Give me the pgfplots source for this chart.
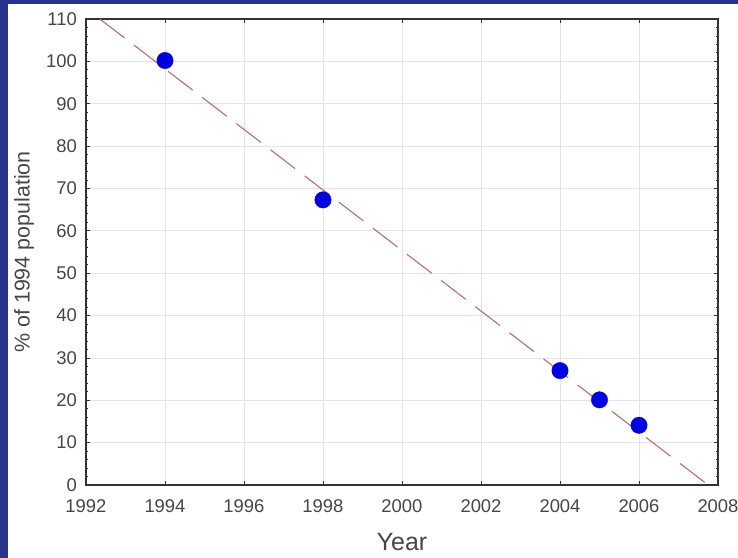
\documentclass[border=0pt]{standalone}
\usepackage{pgfplots}
\pgfplotsset{compat=1.18}
\usepackage{fontspec}
\setmainfont{Liberation Sans}
\definecolor{frameblue}{RGB}{38,52,140}
\definecolor{ptblue}{RGB}{0,0,225}
\definecolor{fitred}{RGB}{180,110,110}
\definecolor{txt}{RGB}{70,70,70}
\begin{document}
\begin{tikzpicture}
\path[use as bounding box] (0,0) rectangle (738bp,558bp);
\fill[white] (0,0) rectangle (738bp,558bp);
\fill[frameblue] (0,0) rectangle (8bp,558bp);
\fill[frameblue] (0,554bp) rectangle (738bp,558bp);
\begin{axis}[
  at={(86bp,73bp)}, anchor=south west,
  scale only axis, width=632bp, height=466bp,
  xmin=1992, xmax=2008, ymin=0, ymax=110,
  xtick={1992,1994,...,2008}, ytick={0,10,...,110},
  minor x tick num=1, minor y tick num=4,
  grid=major, major grid style={gray!22, line width=0.8pt},
  axis line style={black!80, line width=1.2pt},
  major tick length=4bp, minor tick length=2.5bp,
  tick style={black!80, line width=0.8pt},
  /pgf/number format/assume math mode=true,
  /pgf/number format/1000 sep={},
  tick label style={font=\fontsize{18.5}{18.5}\selectfont, text=txt},
  xticklabel style={anchor=base, inner sep=0pt, yshift=-27bp},
  yticklabel style={anchor=east, inner sep=0pt, xshift=-9bp},
  xlabel={Year}, ylabel={\% of 1994 population},
  xlabel style={font=\fontsize{25}{25}\selectfont, text=txt,
    at={(axis description cs:0.5,0)}, anchor=base, inner sep=0pt, yshift=-65bp},
  ylabel style={font=\fontsize{21.5}{21.5}\selectfont, text=txt,
    at={(axis description cs:0,0.5)}, anchor=center, inner sep=0pt, yshift=62bp},
]
\addplot[fitred, line width=1.1pt, dash pattern=on 31bp off 12bp] coordinates {(1992.35,110) (2007.75,0)};
\addplot[only marks, mark=*, mark size=8.2bp, mark options={fill=ptblue, draw=ptblue}] coordinates {
(1994,100.2) (1998,67.3) (2004,27.0) (2005,20.1) (2006,14.1)};
\end{axis}
\end{tikzpicture}
\end{document}
